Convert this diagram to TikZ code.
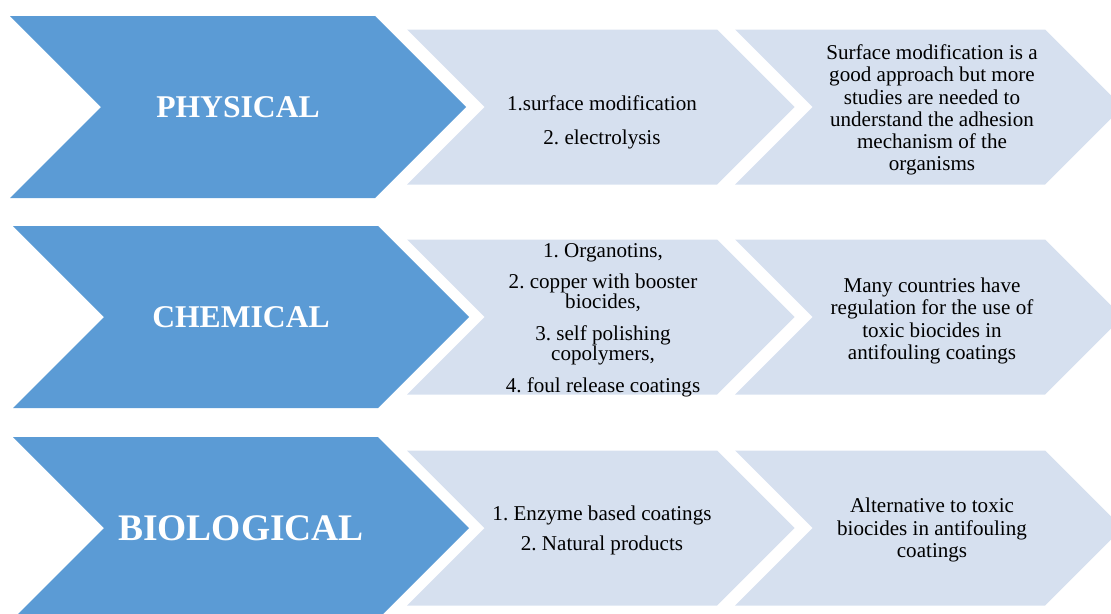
\documentclass[tikz,border=0pt]{standalone}
\usepackage{fontspec}
\setmainfont{Liberation Serif}
\frenchspacing

\definecolor{stageblue}{HTML}{5B9BD5}
\definecolor{notefill}{HTML}{D6E0EF}

% chevron: style, left x, centre y, flat width, height
\newcommand{\chevron}[5]{%
  \fill[#1] (#2,#3-#5/2) -- ++(#4,0) -- ++(#5/2,#5/2) -- ++(-#5/2,#5/2)
    -- ++(-#4,0) -- ++(#5/2,-#5/2) -- cycle;}

\begin{document}
\begin{tikzpicture}[x=0.03cm, y=-0.03cm,
	stagechev/.style={fill=stageblue},
	notechev/.style={fill=notefill},
	stagelabel/.style={text=white, font=\fontsize{27}{30}\selectfont\bfseries},
	itemtext/.style={align=center, text=black, font=\fontsize{18}{19}\selectfont}]
	
	\clip (0,0) rectangle (1111,614);
	
	% Chevrons
	\chevron{stagechev}{10}{107}{365}{182}
	\chevron{notechev}{407}{107}{310}{155}
	\chevron{notechev}{735}{107}{310}{155}
	
	\chevron{stagechev}{13}{317}{365}{182}
	\chevron{notechev}{407}{317}{310}{155}
	\chevron{notechev}{735}{317}{310}{155}
	
	\chevron{stagechev}{13}{528}{365}{182}
	\chevron{notechev}{407}{528}{310}{155}
	\chevron{notechev}{735}{528}{310}{155}
	
	% Define nodes
	\node [stagelabel] (physical) at (238,107) {PHYSICAL};
	\node [itemtext] (physical-methods) at (602,122) {1.surface modification\\[10pt]2. electrolysis};
	\node [itemtext] (physical-note) at (932,110) {Surface modification is a\\good approach but more\\studies are needed to\\understand the adhesion\\mechanism of the\\organisms};
	
	\node [stagelabel] (chemical) at (241,317) {CHEMICAL};
	\node [itemtext, font=\fontsize{18}{17}\selectfont] (chemical-methods) at (603,320) {1. Organotins,\\[10pt]2. copper with booster\\biocides,\\[10pt]3. self polishing\\copolymers,\\[10pt]4. foul release coatings};
	\node [itemtext] (chemical-note) at (932,321) {Many countries have\\regulation for the use of\\toxic biocides in\\antifouling coatings};
	
	\node [stagelabel, font=\fontsize{32}{36}\selectfont\bfseries] (biological) at (241,528) {BIOLOGICAL};
	\node [itemtext] (biological-methods) at (602,530) {1. Enzyme based coatings\\[6.5pt]2. Natural products};
	\node [itemtext] (biological-note) at (932,530) {Alternative to toxic\\biocides in antifouling\\coatings};
\end{tikzpicture}
\end{document}
